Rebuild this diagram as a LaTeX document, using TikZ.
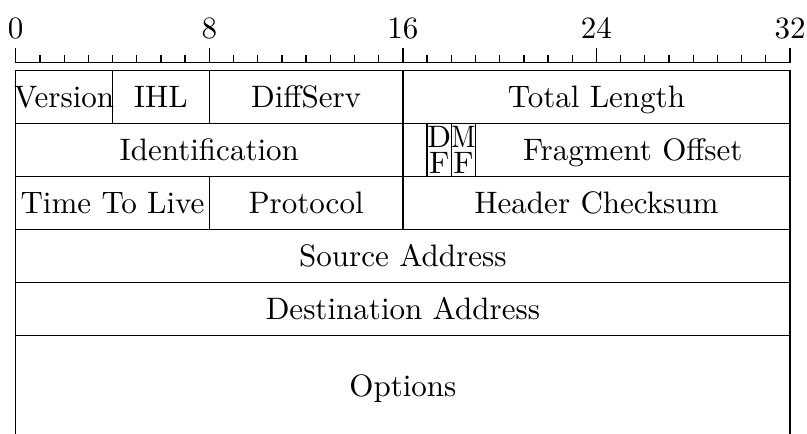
\documentclass[tikz,border=0pt]{standalone}
\usepackage{tikz}
\usetikzlibrary{positioning}
\tikzset{
  fld/.style   ={inner sep=0pt,text height=6.83pt,text depth=0pt,anchor=center},
  flag/.style  ={inner sep=0pt,anchor=base},
  bitnum/.style={inner sep=0pt,anchor=base},
  rule/.style  ={draw=black,line width=0.4pt},
}

\begin{document}
\begin{tikzpicture}[x=7.8pt,y=7.8pt]
\useasboundingbox (-0.65,-15.34) rectangle (32.70,2.59);
% ---- bit ruler
\draw[rule] (0,0) -- (32,0);
\foreach \b in {0,...,32} \draw[rule] (\b,0) -- (\b,0.3);
\foreach \b in {0,8,...,32} {
  \draw[rule] (\b,0) -- (\b,0.6);
  \node[bitnum] (bit\b) at (\b,0.98) {\b};
}

% ---- frame and row lines
\draw[rule] (0,-15.34) -- (0,-0.33) -- (32,-0.33) -- (32,-15.34);
\foreach \y in {-2.52,-4.71,-6.90,-9.09,-11.28} \draw[rule] (0,\y) -- (32,\y);

% ---- field separators
\foreach \x in {4,8,16} \draw[rule] (\x,-0.33) -- (\x,-2.52);
\foreach \x in {16,17,18,19} \draw[rule] (\x,-2.52) -- (\x,-4.71);
\foreach \x in {8,16} \draw[rule] (\x,-4.71) -- (\x,-6.90);

% ---- row 1
\node[fld] (ver)   at (2,-1.425)  {Version};
\node[fld] (ihl)   at (6,-1.425)  {IHL};
\node[fld] (dsf)   at (12,-1.425) {DiffServ};
\node[fld] (tlen)  at (24,-1.425) {Total Length};
% ---- row 2
\node[fld] (ident) at (8,-3.615)  {Identification};
\node[flag] (dfd)  at (17.5,-3.50) {D};
\node[flag] (dff)  at (17.5,-4.60) {F};
\node[flag] (mfm)  at (18.5,-3.50) {\scalebox{0.85}[1]{M}};
\node[flag] (mff)  at (18.5,-4.60) {F};
\node[fld] (frag)  at (25.5,-3.615) {Fragment Offset};
% ---- row 3
\node[fld] (ttl)   at (4,-5.805)  {Time To Live};
\node[fld] (proto) at (12,-5.805) {Protocol};
\node[fld] (hcs)   at (24,-5.805) {Header Checksum};
% ---- rows 4 to 6
\node[fld] (src)   at (16,-7.995)  {Source Address};
\node[fld] (dst)   at (16,-10.185) {Destination Address};
\node[fld] (opt)   at (16,-13.35)  {Options};
\end{tikzpicture}
\end{document}
